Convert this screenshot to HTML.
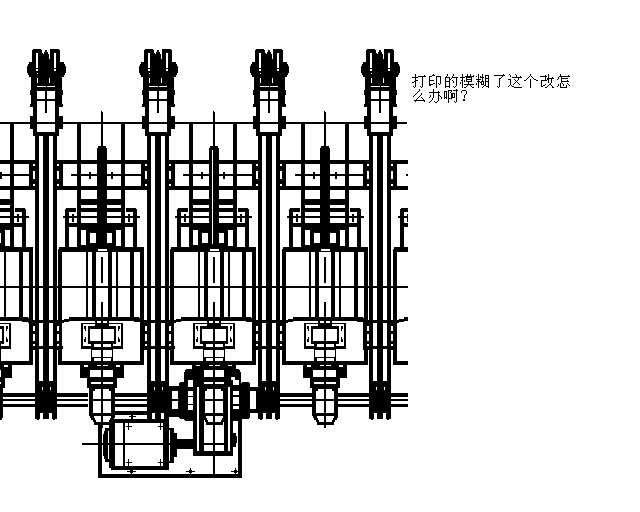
<!DOCTYPE html>
<html><head><meta charset="utf-8"><style>
html,body{margin:0;padding:0;background:#fff;width:640px;height:512px;overflow:hidden}
svg{display:block}
</style></head><body>
<svg width="640" height="512" viewBox="0 0 640 512" shape-rendering="crispEdges">
<defs><clipPath id="c"><rect x="0" y="0" width="408" height="512"/></clipPath></defs>
<g clip-path="url(#c)">
<rect x="0" y="122" width="407" height="2"/>
<g transform="translate(-335,0)"><rect x="280" y="393" width="32" height="4"/><rect x="280" y="399" width="32" height="2"/><rect x="280" y="404" width="32" height="3"/></g><g transform="translate(-224,0)"><rect x="280" y="393" width="32" height="4"/><rect x="280" y="399" width="32" height="2"/><rect x="280" y="404" width="32" height="3"/></g><g transform="translate(0,0)"><rect x="280" y="393" width="32" height="4"/><rect x="280" y="399" width="32" height="2"/><rect x="280" y="404" width="32" height="3"/></g><g transform="translate(111,0)"><rect x="280" y="393" width="32" height="4"/><rect x="280" y="399" width="32" height="2"/><rect x="280" y="404" width="32" height="3"/></g><g transform="translate(-335,0)"><rect x="338" y="393" width="33" height="4"/><rect x="338" y="399" width="33" height="2"/><rect x="338" y="404" width="33" height="3"/></g><g transform="translate(-224,0)"><rect x="338" y="393" width="33" height="4"/><rect x="338" y="399" width="33" height="2"/><rect x="338" y="404" width="33" height="3"/></g><g transform="translate(0,0)"><rect x="338" y="393" width="33" height="4"/><rect x="338" y="399" width="33" height="2"/><rect x="338" y="404" width="33" height="3"/></g><g transform="translate(111,0)"><rect x="338" y="393" width="33" height="4"/><rect x="338" y="399" width="33" height="2"/><rect x="338" y="404" width="33" height="3"/></g><g transform="translate(-335,0)"><rect x="237" y="160" width="16" height="4"/><rect x="237" y="186" width="16" height="4"/><rect x="286" y="160" width="15" height="4"/><rect x="286" y="186" width="15" height="4"/><rect x="305" y="160" width="40" height="4"/><rect x="305" y="186" width="40" height="4"/><rect x="237" y="174" width="15" height="2"/><rect x="295" y="174" width="70" height="2"/><rect x="313" y="172" width="2" height="7"/><rect x="335" y="172" width="2" height="7"/><rect x="301" y="124" width="4" height="124"/><rect x="345" y="124" width="4" height="124"/><rect x="305" y="199" width="40" height="6"/><rect x="305" y="208" width="40" height="4"/><rect x="287" y="216" width="77" height="2"/><rect x="305" y="223" width="40" height="7"/><rect x="290" y="208" width="10" height="4"/><rect x="289" y="209" width="4" height="39"/><rect x="293" y="223" width="8" height="4"/><rect x="296" y="214" width="2" height="8"/><rect x="350" y="208" width="10" height="4"/><rect x="357" y="209" width="4" height="39"/><rect x="349" y="223" width="8" height="4"/><rect x="352" y="214" width="2" height="8"/><rect x="305" y="223" width="40" height="25"/><rect x="305" y="230" width="5" height="15" fill="#fff"/><rect x="306" y="230" width="1" height="2" fill="#fff"/><rect x="314" y="233" width="6" height="10" fill="#fff"/><rect x="330" y="233" width="6" height="10" fill="#fff"/><rect x="340" y="230" width="5" height="16" fill="#fff"/><rect x="283" y="247" width="85" height="5"/><rect x="282" y="249" width="4" height="116"/><rect x="364" y="249" width="4" height="116"/><rect x="282" y="361" width="86" height="4"/><rect x="354" y="248" width="4" height="70"/><rect x="240" y="286" width="128" height="2"/><rect x="293" y="317" width="70" height="4"/><rect x="288" y="319" width="5" height="3"/><rect x="252" y="320" width="36" height="3"/><rect x="246" y="319" width="6" height="3"/><rect x="363" y="318" width="2" height="3"/></g><g transform="translate(-224,0)"><rect x="237" y="160" width="16" height="4"/><rect x="237" y="186" width="16" height="4"/><rect x="286" y="160" width="15" height="4"/><rect x="286" y="186" width="15" height="4"/><rect x="305" y="160" width="40" height="4"/><rect x="305" y="186" width="40" height="4"/><rect x="237" y="174" width="15" height="2"/><rect x="295" y="174" width="70" height="2"/><rect x="313" y="172" width="2" height="7"/><rect x="335" y="172" width="2" height="7"/><rect x="301" y="124" width="4" height="124"/><rect x="345" y="124" width="4" height="124"/><rect x="305" y="199" width="40" height="6"/><rect x="305" y="208" width="40" height="4"/><rect x="287" y="216" width="77" height="2"/><rect x="305" y="223" width="40" height="7"/><rect x="290" y="208" width="10" height="4"/><rect x="289" y="209" width="4" height="39"/><rect x="293" y="223" width="8" height="4"/><rect x="296" y="214" width="2" height="8"/><rect x="350" y="208" width="10" height="4"/><rect x="357" y="209" width="4" height="39"/><rect x="349" y="223" width="8" height="4"/><rect x="352" y="214" width="2" height="8"/><rect x="305" y="223" width="40" height="25"/><rect x="305" y="230" width="5" height="15" fill="#fff"/><rect x="306" y="230" width="1" height="2" fill="#fff"/><rect x="314" y="233" width="6" height="10" fill="#fff"/><rect x="330" y="233" width="6" height="10" fill="#fff"/><rect x="340" y="230" width="5" height="16" fill="#fff"/><rect x="283" y="247" width="85" height="5"/><rect x="282" y="249" width="4" height="116"/><rect x="364" y="249" width="4" height="116"/><rect x="282" y="361" width="86" height="4"/><rect x="354" y="248" width="4" height="70"/><rect x="240" y="286" width="128" height="2"/><rect x="293" y="317" width="70" height="4"/><rect x="288" y="319" width="5" height="3"/><rect x="252" y="320" width="36" height="3"/><rect x="246" y="319" width="6" height="3"/><rect x="363" y="318" width="2" height="3"/></g><g transform="translate(-112,0)"><rect x="237" y="160" width="16" height="4"/><rect x="237" y="186" width="16" height="4"/><rect x="286" y="160" width="15" height="4"/><rect x="286" y="186" width="15" height="4"/><rect x="305" y="160" width="40" height="4"/><rect x="305" y="186" width="40" height="4"/><rect x="237" y="174" width="15" height="2"/><rect x="295" y="174" width="70" height="2"/><rect x="313" y="172" width="2" height="7"/><rect x="335" y="172" width="2" height="7"/><rect x="301" y="124" width="4" height="124"/><rect x="345" y="124" width="4" height="124"/><rect x="305" y="199" width="40" height="6"/><rect x="305" y="208" width="40" height="4"/><rect x="287" y="216" width="77" height="2"/><rect x="305" y="223" width="40" height="7"/><rect x="290" y="208" width="10" height="4"/><rect x="289" y="209" width="4" height="39"/><rect x="293" y="223" width="8" height="4"/><rect x="296" y="214" width="2" height="8"/><rect x="350" y="208" width="10" height="4"/><rect x="357" y="209" width="4" height="39"/><rect x="349" y="223" width="8" height="4"/><rect x="352" y="214" width="2" height="8"/><rect x="305" y="223" width="40" height="25"/><rect x="305" y="230" width="5" height="15" fill="#fff"/><rect x="306" y="230" width="1" height="2" fill="#fff"/><rect x="314" y="233" width="6" height="10" fill="#fff"/><rect x="330" y="233" width="6" height="10" fill="#fff"/><rect x="340" y="230" width="5" height="16" fill="#fff"/><rect x="283" y="247" width="85" height="5"/><rect x="282" y="249" width="4" height="116"/><rect x="364" y="249" width="4" height="116"/><rect x="282" y="361" width="86" height="4"/><rect x="354" y="248" width="4" height="70"/><rect x="240" y="286" width="128" height="2"/><rect x="293" y="317" width="70" height="4"/><rect x="288" y="319" width="5" height="3"/><rect x="252" y="320" width="36" height="3"/><rect x="246" y="319" width="6" height="3"/><rect x="363" y="318" width="2" height="3"/></g><g transform="translate(0,0)"><rect x="237" y="160" width="16" height="4"/><rect x="237" y="186" width="16" height="4"/><rect x="286" y="160" width="15" height="4"/><rect x="286" y="186" width="15" height="4"/><rect x="305" y="160" width="40" height="4"/><rect x="305" y="186" width="40" height="4"/><rect x="237" y="174" width="15" height="2"/><rect x="295" y="174" width="70" height="2"/><rect x="313" y="172" width="2" height="7"/><rect x="335" y="172" width="2" height="7"/><rect x="301" y="124" width="4" height="124"/><rect x="345" y="124" width="4" height="124"/><rect x="305" y="199" width="40" height="6"/><rect x="305" y="208" width="40" height="4"/><rect x="287" y="216" width="77" height="2"/><rect x="305" y="223" width="40" height="7"/><rect x="290" y="208" width="10" height="4"/><rect x="289" y="209" width="4" height="39"/><rect x="293" y="223" width="8" height="4"/><rect x="296" y="214" width="2" height="8"/><rect x="350" y="208" width="10" height="4"/><rect x="357" y="209" width="4" height="39"/><rect x="349" y="223" width="8" height="4"/><rect x="352" y="214" width="2" height="8"/><rect x="305" y="223" width="40" height="25"/><rect x="305" y="230" width="5" height="15" fill="#fff"/><rect x="306" y="230" width="1" height="2" fill="#fff"/><rect x="314" y="233" width="6" height="10" fill="#fff"/><rect x="330" y="233" width="6" height="10" fill="#fff"/><rect x="340" y="230" width="5" height="16" fill="#fff"/><rect x="283" y="247" width="85" height="5"/><rect x="282" y="249" width="4" height="116"/><rect x="364" y="249" width="4" height="116"/><rect x="282" y="361" width="86" height="4"/><rect x="354" y="248" width="4" height="70"/><rect x="240" y="286" width="128" height="2"/><rect x="293" y="317" width="70" height="4"/><rect x="288" y="319" width="5" height="3"/><rect x="252" y="320" width="36" height="3"/><rect x="246" y="319" width="6" height="3"/><rect x="363" y="318" width="2" height="3"/></g><g transform="translate(111,0)"><rect x="237" y="160" width="16" height="4"/><rect x="237" y="186" width="16" height="4"/><rect x="286" y="160" width="15" height="4"/><rect x="286" y="186" width="15" height="4"/><rect x="305" y="160" width="40" height="4"/><rect x="305" y="186" width="40" height="4"/><rect x="237" y="174" width="15" height="2"/><rect x="295" y="174" width="70" height="2"/><rect x="313" y="172" width="2" height="7"/><rect x="335" y="172" width="2" height="7"/><rect x="301" y="124" width="4" height="124"/><rect x="345" y="124" width="4" height="124"/><rect x="305" y="199" width="40" height="6"/><rect x="305" y="208" width="40" height="4"/><rect x="287" y="216" width="77" height="2"/><rect x="305" y="223" width="40" height="7"/><rect x="290" y="208" width="10" height="4"/><rect x="289" y="209" width="4" height="39"/><rect x="293" y="223" width="8" height="4"/><rect x="296" y="214" width="2" height="8"/><rect x="350" y="208" width="10" height="4"/><rect x="357" y="209" width="4" height="39"/><rect x="349" y="223" width="8" height="4"/><rect x="352" y="214" width="2" height="8"/><rect x="305" y="223" width="40" height="25"/><rect x="305" y="230" width="5" height="15" fill="#fff"/><rect x="306" y="230" width="1" height="2" fill="#fff"/><rect x="314" y="233" width="6" height="10" fill="#fff"/><rect x="330" y="233" width="6" height="10" fill="#fff"/><rect x="340" y="230" width="5" height="16" fill="#fff"/><rect x="283" y="247" width="85" height="5"/><rect x="282" y="249" width="4" height="116"/><rect x="364" y="249" width="4" height="116"/><rect x="282" y="361" width="86" height="4"/><rect x="354" y="248" width="4" height="70"/><rect x="240" y="286" width="128" height="2"/><rect x="293" y="317" width="70" height="4"/><rect x="288" y="319" width="5" height="3"/><rect x="252" y="320" width="36" height="3"/><rect x="246" y="319" width="6" height="3"/><rect x="363" y="318" width="2" height="3"/></g><g transform="translate(-335,0)"><rect x="324" y="111" width="1" height="36"/><rect x="325" y="112" width="1" height="35"/><rect x="321" y="146" width="8" height="2"/><rect x="320" y="148" width="10" height="99"/><rect x="321" y="249" width="9" height="2" fill="#fff"/><rect x="309" y="252" width="2" height="66"/><rect x="315" y="252" width="4" height="66"/><rect x="331" y="252" width="4" height="66"/><rect x="339" y="252" width="2" height="66"/><rect x="324" y="257" width="2" height="26"/><rect x="318" y="320" width="14" height="9"/><rect x="320" y="321" width="4" height="4" fill="#fff"/><rect x="326" y="321" width="4" height="4" fill="#fff"/><rect x="304" y="323" width="42" height="26"/><rect x="306" y="324" width="5" height="19" fill="#fff"/><rect x="339" y="324" width="5" height="19" fill="#fff"/><rect x="309" y="324" width="9" height="2" fill="#fff"/><rect x="332" y="324" width="9" height="2" fill="#fff"/><rect x="306" y="343" width="5" height="3" fill="#fff"/><rect x="339" y="343" width="5" height="3" fill="#fff"/><rect x="311" y="344" width="6" height="2" fill="#fff"/><rect x="334" y="344" width="5" height="2" fill="#fff"/><rect x="307" y="326" width="2" height="3"/><rect x="308" y="329" width="1" height="2"/><rect x="341" y="326" width="2" height="3"/><rect x="341" y="329" width="1" height="2"/><rect x="307" y="339" width="2" height="3"/><rect x="308" y="337" width="1" height="2"/><rect x="341" y="339" width="2" height="3"/><rect x="341" y="337" width="1" height="2"/><rect x="311" y="327" width="28" height="16"/><rect x="313" y="329" width="11" height="12" fill="#fff"/><rect x="326" y="329" width="11" height="12" fill="#fff"/><rect x="324" y="302" width="2" height="61"/><rect x="314" y="342" width="22" height="20"/><rect x="317" y="344" width="7" height="3" fill="#fff"/><rect x="326" y="344" width="8" height="3" fill="#fff"/><rect x="315" y="350" width="9" height="7" fill="#fff"/><rect x="326" y="350" width="9" height="7" fill="#fff"/><rect x="317" y="358" width="7" height="3" fill="#fff"/><rect x="326" y="358" width="8" height="3" fill="#fff"/><rect x="303" y="365" width="44" height="13"/><rect x="313" y="370" width="11" height="7" fill="#fff"/><rect x="326" y="370" width="10" height="7" fill="#fff"/><rect x="307" y="365" width="4" height="2" fill="#fff"/><rect x="339" y="365" width="4" height="2" fill="#fff"/><rect x="320" y="365" width="4" height="1" fill="#fff"/><rect x="326" y="365" width="5" height="1" fill="#fff"/><rect x="310" y="378" width="30" height="10"/><rect x="314" y="382" width="10" height="2" fill="#fff"/><rect x="326" y="382" width="10" height="2" fill="#fff"/><rect x="312" y="388" width="26" height="28"/><rect x="316" y="389" width="8" height="24" fill="#fff"/><rect x="326" y="389" width="8" height="24" fill="#fff"/><rect x="316" y="399" width="18" height="2"/><rect x="316" y="389" width="2" height="2"/><rect x="332" y="389" width="2" height="2"/><rect x="313" y="416" width="4" height="2"/><rect x="314" y="418" width="4" height="2"/><rect x="316" y="420" width="3" height="2"/><rect x="334" y="416" width="4" height="2"/><rect x="333" y="418" width="4" height="2"/><rect x="332" y="420" width="3" height="2"/><rect x="317" y="422" width="17" height="3"/><rect x="324" y="365" width="2" height="63"/></g><g transform="translate(-223,0)"><rect x="324" y="111" width="1" height="36"/><rect x="325" y="112" width="1" height="35"/><rect x="321" y="146" width="8" height="2"/><rect x="320" y="148" width="10" height="99"/><rect x="321" y="249" width="9" height="2" fill="#fff"/><rect x="309" y="252" width="2" height="66"/><rect x="315" y="252" width="4" height="66"/><rect x="331" y="252" width="4" height="66"/><rect x="339" y="252" width="2" height="66"/><rect x="324" y="257" width="2" height="26"/><rect x="318" y="320" width="14" height="9"/><rect x="320" y="321" width="4" height="4" fill="#fff"/><rect x="326" y="321" width="4" height="4" fill="#fff"/><rect x="304" y="323" width="42" height="26"/><rect x="306" y="324" width="5" height="19" fill="#fff"/><rect x="339" y="324" width="5" height="19" fill="#fff"/><rect x="309" y="324" width="9" height="2" fill="#fff"/><rect x="332" y="324" width="9" height="2" fill="#fff"/><rect x="306" y="343" width="5" height="3" fill="#fff"/><rect x="339" y="343" width="5" height="3" fill="#fff"/><rect x="311" y="344" width="6" height="2" fill="#fff"/><rect x="334" y="344" width="5" height="2" fill="#fff"/><rect x="307" y="326" width="2" height="3"/><rect x="308" y="329" width="1" height="2"/><rect x="341" y="326" width="2" height="3"/><rect x="341" y="329" width="1" height="2"/><rect x="307" y="339" width="2" height="3"/><rect x="308" y="337" width="1" height="2"/><rect x="341" y="339" width="2" height="3"/><rect x="341" y="337" width="1" height="2"/><rect x="311" y="327" width="28" height="16"/><rect x="313" y="329" width="11" height="12" fill="#fff"/><rect x="326" y="329" width="11" height="12" fill="#fff"/><rect x="324" y="302" width="2" height="61"/><rect x="314" y="342" width="22" height="20"/><rect x="317" y="344" width="7" height="3" fill="#fff"/><rect x="326" y="344" width="8" height="3" fill="#fff"/><rect x="315" y="350" width="9" height="7" fill="#fff"/><rect x="326" y="350" width="9" height="7" fill="#fff"/><rect x="317" y="358" width="7" height="3" fill="#fff"/><rect x="326" y="358" width="8" height="3" fill="#fff"/><rect x="303" y="365" width="44" height="13"/><rect x="313" y="370" width="11" height="7" fill="#fff"/><rect x="326" y="370" width="10" height="7" fill="#fff"/><rect x="307" y="365" width="4" height="2" fill="#fff"/><rect x="339" y="365" width="4" height="2" fill="#fff"/><rect x="320" y="365" width="4" height="1" fill="#fff"/><rect x="326" y="365" width="5" height="1" fill="#fff"/><rect x="310" y="378" width="30" height="10"/><rect x="314" y="382" width="10" height="2" fill="#fff"/><rect x="326" y="382" width="10" height="2" fill="#fff"/><rect x="312" y="388" width="26" height="28"/><rect x="316" y="389" width="8" height="24" fill="#fff"/><rect x="326" y="389" width="8" height="24" fill="#fff"/><rect x="316" y="399" width="18" height="2"/><rect x="316" y="389" width="2" height="2"/><rect x="332" y="389" width="2" height="2"/><rect x="313" y="416" width="4" height="2"/><rect x="314" y="418" width="4" height="2"/><rect x="316" y="420" width="3" height="2"/><rect x="334" y="416" width="4" height="2"/><rect x="333" y="418" width="4" height="2"/><rect x="332" y="420" width="3" height="2"/><rect x="317" y="422" width="17" height="3"/><rect x="324" y="365" width="2" height="63"/></g><g transform="translate(-111,0)"><rect x="324" y="111" width="1" height="36"/><rect x="325" y="112" width="1" height="35"/><rect x="321" y="146" width="8" height="2"/><rect x="320" y="148" width="10" height="99"/><rect x="321" y="249" width="9" height="2" fill="#fff"/><rect x="309" y="252" width="2" height="66"/><rect x="315" y="252" width="4" height="66"/><rect x="331" y="252" width="4" height="66"/><rect x="339" y="252" width="2" height="66"/><rect x="324" y="257" width="2" height="26"/><rect x="318" y="320" width="14" height="9"/><rect x="320" y="321" width="4" height="4" fill="#fff"/><rect x="326" y="321" width="4" height="4" fill="#fff"/><rect x="304" y="323" width="42" height="26"/><rect x="306" y="324" width="5" height="19" fill="#fff"/><rect x="339" y="324" width="5" height="19" fill="#fff"/><rect x="309" y="324" width="9" height="2" fill="#fff"/><rect x="332" y="324" width="9" height="2" fill="#fff"/><rect x="306" y="343" width="5" height="3" fill="#fff"/><rect x="339" y="343" width="5" height="3" fill="#fff"/><rect x="311" y="344" width="6" height="2" fill="#fff"/><rect x="334" y="344" width="5" height="2" fill="#fff"/><rect x="307" y="326" width="2" height="3"/><rect x="308" y="329" width="1" height="2"/><rect x="341" y="326" width="2" height="3"/><rect x="341" y="329" width="1" height="2"/><rect x="307" y="339" width="2" height="3"/><rect x="308" y="337" width="1" height="2"/><rect x="341" y="339" width="2" height="3"/><rect x="341" y="337" width="1" height="2"/><rect x="311" y="327" width="28" height="16"/><rect x="313" y="329" width="11" height="12" fill="#fff"/><rect x="326" y="329" width="11" height="12" fill="#fff"/><rect x="324" y="302" width="2" height="61"/><rect x="314" y="342" width="22" height="20"/><rect x="317" y="344" width="7" height="3" fill="#fff"/><rect x="326" y="344" width="8" height="3" fill="#fff"/><rect x="315" y="350" width="9" height="7" fill="#fff"/><rect x="326" y="350" width="9" height="7" fill="#fff"/><rect x="317" y="358" width="7" height="3" fill="#fff"/><rect x="326" y="358" width="8" height="3" fill="#fff"/><rect x="303" y="365" width="44" height="13"/><rect x="313" y="370" width="11" height="7" fill="#fff"/><rect x="326" y="370" width="10" height="7" fill="#fff"/><rect x="307" y="365" width="4" height="2" fill="#fff"/><rect x="339" y="365" width="4" height="2" fill="#fff"/><rect x="320" y="365" width="4" height="1" fill="#fff"/><rect x="326" y="365" width="5" height="1" fill="#fff"/><rect x="310" y="378" width="30" height="10"/><rect x="314" y="382" width="10" height="2" fill="#fff"/><rect x="326" y="382" width="10" height="2" fill="#fff"/><rect x="312" y="388" width="26" height="28"/><rect x="316" y="389" width="8" height="24" fill="#fff"/><rect x="326" y="389" width="8" height="24" fill="#fff"/><rect x="316" y="399" width="18" height="2"/><rect x="316" y="389" width="2" height="2"/><rect x="332" y="389" width="2" height="2"/><rect x="313" y="416" width="4" height="2"/><rect x="314" y="418" width="4" height="2"/><rect x="316" y="420" width="3" height="2"/><rect x="334" y="416" width="4" height="2"/><rect x="333" y="418" width="4" height="2"/><rect x="332" y="420" width="3" height="2"/><rect x="317" y="422" width="17" height="3"/><rect x="324" y="365" width="2" height="63"/></g><g transform="translate(0,0)"><rect x="324" y="111" width="1" height="36"/><rect x="325" y="112" width="1" height="35"/><rect x="321" y="146" width="8" height="2"/><rect x="320" y="148" width="10" height="99"/><rect x="321" y="249" width="9" height="2" fill="#fff"/><rect x="309" y="252" width="2" height="66"/><rect x="315" y="252" width="4" height="66"/><rect x="331" y="252" width="4" height="66"/><rect x="339" y="252" width="2" height="66"/><rect x="324" y="257" width="2" height="26"/><rect x="318" y="320" width="14" height="9"/><rect x="320" y="321" width="4" height="4" fill="#fff"/><rect x="326" y="321" width="4" height="4" fill="#fff"/><rect x="304" y="323" width="42" height="26"/><rect x="306" y="324" width="5" height="19" fill="#fff"/><rect x="339" y="324" width="5" height="19" fill="#fff"/><rect x="309" y="324" width="9" height="2" fill="#fff"/><rect x="332" y="324" width="9" height="2" fill="#fff"/><rect x="306" y="343" width="5" height="3" fill="#fff"/><rect x="339" y="343" width="5" height="3" fill="#fff"/><rect x="311" y="344" width="6" height="2" fill="#fff"/><rect x="334" y="344" width="5" height="2" fill="#fff"/><rect x="307" y="326" width="2" height="3"/><rect x="308" y="329" width="1" height="2"/><rect x="341" y="326" width="2" height="3"/><rect x="341" y="329" width="1" height="2"/><rect x="307" y="339" width="2" height="3"/><rect x="308" y="337" width="1" height="2"/><rect x="341" y="339" width="2" height="3"/><rect x="341" y="337" width="1" height="2"/><rect x="311" y="327" width="28" height="16"/><rect x="313" y="329" width="11" height="12" fill="#fff"/><rect x="326" y="329" width="11" height="12" fill="#fff"/><rect x="324" y="302" width="2" height="61"/><rect x="314" y="342" width="22" height="20"/><rect x="317" y="344" width="7" height="3" fill="#fff"/><rect x="326" y="344" width="8" height="3" fill="#fff"/><rect x="315" y="350" width="9" height="7" fill="#fff"/><rect x="326" y="350" width="9" height="7" fill="#fff"/><rect x="317" y="358" width="7" height="3" fill="#fff"/><rect x="326" y="358" width="8" height="3" fill="#fff"/><rect x="303" y="365" width="44" height="13"/><rect x="313" y="370" width="11" height="7" fill="#fff"/><rect x="326" y="370" width="10" height="7" fill="#fff"/><rect x="307" y="365" width="4" height="2" fill="#fff"/><rect x="339" y="365" width="4" height="2" fill="#fff"/><rect x="320" y="365" width="4" height="1" fill="#fff"/><rect x="326" y="365" width="5" height="1" fill="#fff"/><rect x="310" y="378" width="30" height="10"/><rect x="314" y="382" width="10" height="2" fill="#fff"/><rect x="326" y="382" width="10" height="2" fill="#fff"/><rect x="312" y="388" width="26" height="28"/><rect x="316" y="389" width="8" height="24" fill="#fff"/><rect x="326" y="389" width="8" height="24" fill="#fff"/><rect x="316" y="399" width="18" height="2"/><rect x="316" y="389" width="2" height="2"/><rect x="332" y="389" width="2" height="2"/><rect x="313" y="416" width="4" height="2"/><rect x="314" y="418" width="4" height="2"/><rect x="316" y="420" width="3" height="2"/><rect x="334" y="416" width="4" height="2"/><rect x="333" y="418" width="4" height="2"/><rect x="332" y="420" width="3" height="2"/><rect x="317" y="422" width="17" height="3"/><rect x="324" y="365" width="2" height="63"/></g><g transform="translate(111,0)"><rect x="324" y="111" width="1" height="36"/><rect x="325" y="112" width="1" height="35"/><rect x="321" y="146" width="8" height="2"/><rect x="320" y="148" width="10" height="99"/><rect x="321" y="249" width="9" height="2" fill="#fff"/><rect x="309" y="252" width="2" height="66"/><rect x="315" y="252" width="4" height="66"/><rect x="331" y="252" width="4" height="66"/><rect x="339" y="252" width="2" height="66"/><rect x="324" y="257" width="2" height="26"/><rect x="318" y="320" width="14" height="9"/><rect x="320" y="321" width="4" height="4" fill="#fff"/><rect x="326" y="321" width="4" height="4" fill="#fff"/><rect x="304" y="323" width="42" height="26"/><rect x="306" y="324" width="5" height="19" fill="#fff"/><rect x="339" y="324" width="5" height="19" fill="#fff"/><rect x="309" y="324" width="9" height="2" fill="#fff"/><rect x="332" y="324" width="9" height="2" fill="#fff"/><rect x="306" y="343" width="5" height="3" fill="#fff"/><rect x="339" y="343" width="5" height="3" fill="#fff"/><rect x="311" y="344" width="6" height="2" fill="#fff"/><rect x="334" y="344" width="5" height="2" fill="#fff"/><rect x="307" y="326" width="2" height="3"/><rect x="308" y="329" width="1" height="2"/><rect x="341" y="326" width="2" height="3"/><rect x="341" y="329" width="1" height="2"/><rect x="307" y="339" width="2" height="3"/><rect x="308" y="337" width="1" height="2"/><rect x="341" y="339" width="2" height="3"/><rect x="341" y="337" width="1" height="2"/><rect x="311" y="327" width="28" height="16"/><rect x="313" y="329" width="11" height="12" fill="#fff"/><rect x="326" y="329" width="11" height="12" fill="#fff"/><rect x="324" y="302" width="2" height="61"/><rect x="314" y="342" width="22" height="20"/><rect x="317" y="344" width="7" height="3" fill="#fff"/><rect x="326" y="344" width="8" height="3" fill="#fff"/><rect x="315" y="350" width="9" height="7" fill="#fff"/><rect x="326" y="350" width="9" height="7" fill="#fff"/><rect x="317" y="358" width="7" height="3" fill="#fff"/><rect x="326" y="358" width="8" height="3" fill="#fff"/><rect x="303" y="365" width="44" height="13"/><rect x="313" y="370" width="11" height="7" fill="#fff"/><rect x="326" y="370" width="10" height="7" fill="#fff"/><rect x="307" y="365" width="4" height="2" fill="#fff"/><rect x="339" y="365" width="4" height="2" fill="#fff"/><rect x="320" y="365" width="4" height="1" fill="#fff"/><rect x="326" y="365" width="5" height="1" fill="#fff"/><rect x="310" y="378" width="30" height="10"/><rect x="314" y="382" width="10" height="2" fill="#fff"/><rect x="326" y="382" width="10" height="2" fill="#fff"/><rect x="312" y="388" width="26" height="28"/><rect x="316" y="389" width="8" height="24" fill="#fff"/><rect x="326" y="389" width="8" height="24" fill="#fff"/><rect x="316" y="399" width="18" height="2"/><rect x="316" y="389" width="2" height="2"/><rect x="332" y="389" width="2" height="2"/><rect x="313" y="416" width="4" height="2"/><rect x="314" y="418" width="4" height="2"/><rect x="316" y="420" width="3" height="2"/><rect x="334" y="416" width="4" height="2"/><rect x="333" y="418" width="4" height="2"/><rect x="332" y="420" width="3" height="2"/><rect x="317" y="422" width="17" height="3"/><rect x="324" y="365" width="2" height="63"/></g><g transform="translate(-334,0)"><rect x="256" y="49" width="8" height="13"/><rect x="255" y="50" width="1" height="12"/><rect x="264" y="50" width="1" height="12"/><rect x="265" y="53" width="1" height="9"/><rect x="273" y="49" width="9" height="13"/><rect x="282" y="50" width="1" height="12"/><rect x="265" y="56" width="7" height="6"/><rect x="266" y="54" width="6" height="2"/><rect x="267" y="52" width="4" height="2"/><rect x="268" y="50" width="2" height="2"/><rect x="272" y="59" width="1" height="3"/><rect x="252" y="62" width="35" height="15"/><rect x="251" y="64" width="37" height="11"/><rect x="250" y="66" width="39" height="7"/><rect x="254" y="77" width="31" height="30"/><rect x="253" y="90" width="33" height="5"/><rect x="253" y="104" width="33" height="3"/><rect x="256" y="107" width="26" height="29"/><rect x="253" y="116" width="33" height="13"/><rect x="259" y="53" width="2" height="15" fill="#fff"/><rect x="277" y="53" width="2" height="15" fill="#fff"/><rect x="259" y="69" width="2" height="2" fill="#fff"/><rect x="277" y="69" width="2" height="2" fill="#fff"/><rect x="260" y="73" width="1" height="1" fill="#fff"/><rect x="260" y="86" width="9" height="1" fill="#fff"/><rect x="270" y="86" width="8" height="1" fill="#fff"/><rect x="260" y="78" width="1" height="5" fill="#fff"/><rect x="272" y="78" width="1" height="5" fill="#fff"/><rect x="260" y="91" width="18" height="31" fill="#fff"/><rect x="268" y="91" width="2" height="22"/><rect x="260" y="99" width="18" height="2"/><rect x="256" y="122" width="26" height="2"/><rect x="260" y="124" width="18" height="8" fill="#fff"/><rect x="258" y="136" width="4" height="245"/><rect x="266" y="136" width="6" height="245"/><rect x="276" y="136" width="4" height="245"/><rect x="252" y="160" width="6" height="30"/><rect x="256" y="164" width="2" height="2" fill="#fff"/><rect x="256" y="171" width="2" height="8" fill="#fff"/><rect x="256" y="184" width="2" height="2" fill="#fff"/><rect x="280" y="160" width="6" height="30"/><rect x="280" y="164" width="2" height="2" fill="#fff"/><rect x="280" y="171" width="2" height="8" fill="#fff"/><rect x="280" y="184" width="2" height="2" fill="#fff"/><rect x="256" y="160" width="2" height="4"/><rect x="256" y="186" width="2" height="4"/><rect x="280" y="160" width="2" height="4"/><rect x="280" y="186" width="2" height="4"/><rect x="252" y="322" width="6" height="28"/><rect x="256" y="326" width="2" height="5" fill="#fff"/><rect x="256" y="334" width="2" height="7" fill="#fff"/><rect x="256" y="344" width="2" height="2" fill="#fff"/><rect x="280" y="322" width="2" height="28"/><rect x="280" y="326" width="2" height="5" fill="#fff"/><rect x="280" y="334" width="2" height="7" fill="#fff"/><rect x="280" y="344" width="2" height="2" fill="#fff"/><rect x="252" y="346" width="34" height="3"/><rect x="258" y="381" width="22" height="38"/><rect x="263" y="413" width="3" height="6" fill="#fff"/><rect x="272" y="413" width="3" height="6" fill="#fff"/><rect x="265" y="387" width="1" height="3" fill="#fff"/><rect x="273" y="387" width="1" height="3" fill="#fff"/><rect x="260" y="419" width="2" height="1"/><rect x="276" y="419" width="2" height="1"/></g><g transform="translate(-223,0)"><rect x="256" y="49" width="8" height="13"/><rect x="255" y="50" width="1" height="12"/><rect x="264" y="50" width="1" height="12"/><rect x="265" y="53" width="1" height="9"/><rect x="273" y="49" width="9" height="13"/><rect x="282" y="50" width="1" height="12"/><rect x="265" y="56" width="7" height="6"/><rect x="266" y="54" width="6" height="2"/><rect x="267" y="52" width="4" height="2"/><rect x="268" y="50" width="2" height="2"/><rect x="272" y="59" width="1" height="3"/><rect x="252" y="62" width="35" height="15"/><rect x="251" y="64" width="37" height="11"/><rect x="250" y="66" width="39" height="7"/><rect x="254" y="77" width="31" height="30"/><rect x="253" y="90" width="33" height="5"/><rect x="253" y="104" width="33" height="3"/><rect x="256" y="107" width="26" height="29"/><rect x="253" y="116" width="33" height="13"/><rect x="259" y="53" width="2" height="15" fill="#fff"/><rect x="277" y="53" width="2" height="15" fill="#fff"/><rect x="259" y="69" width="2" height="2" fill="#fff"/><rect x="277" y="69" width="2" height="2" fill="#fff"/><rect x="260" y="73" width="1" height="1" fill="#fff"/><rect x="260" y="86" width="9" height="1" fill="#fff"/><rect x="270" y="86" width="8" height="1" fill="#fff"/><rect x="260" y="78" width="1" height="5" fill="#fff"/><rect x="272" y="78" width="1" height="5" fill="#fff"/><rect x="260" y="91" width="18" height="31" fill="#fff"/><rect x="268" y="91" width="2" height="22"/><rect x="260" y="99" width="18" height="2"/><rect x="256" y="122" width="26" height="2"/><rect x="260" y="124" width="18" height="8" fill="#fff"/><rect x="258" y="136" width="4" height="245"/><rect x="266" y="136" width="6" height="245"/><rect x="276" y="136" width="4" height="245"/><rect x="252" y="160" width="6" height="30"/><rect x="256" y="164" width="2" height="2" fill="#fff"/><rect x="256" y="171" width="2" height="8" fill="#fff"/><rect x="256" y="184" width="2" height="2" fill="#fff"/><rect x="280" y="160" width="6" height="30"/><rect x="280" y="164" width="2" height="2" fill="#fff"/><rect x="280" y="171" width="2" height="8" fill="#fff"/><rect x="280" y="184" width="2" height="2" fill="#fff"/><rect x="256" y="160" width="2" height="4"/><rect x="256" y="186" width="2" height="4"/><rect x="280" y="160" width="2" height="4"/><rect x="280" y="186" width="2" height="4"/><rect x="252" y="322" width="6" height="28"/><rect x="256" y="326" width="2" height="5" fill="#fff"/><rect x="256" y="334" width="2" height="7" fill="#fff"/><rect x="256" y="344" width="2" height="2" fill="#fff"/><rect x="280" y="322" width="2" height="28"/><rect x="280" y="326" width="2" height="5" fill="#fff"/><rect x="280" y="334" width="2" height="7" fill="#fff"/><rect x="280" y="344" width="2" height="2" fill="#fff"/><rect x="252" y="346" width="34" height="3"/><rect x="258" y="381" width="22" height="38"/><rect x="263" y="413" width="3" height="6" fill="#fff"/><rect x="272" y="413" width="3" height="6" fill="#fff"/><rect x="265" y="387" width="1" height="3" fill="#fff"/><rect x="273" y="387" width="1" height="3" fill="#fff"/><rect x="260" y="419" width="2" height="1"/><rect x="276" y="419" width="2" height="1"/></g><g transform="translate(-111,0)"><rect x="256" y="49" width="8" height="13"/><rect x="255" y="50" width="1" height="12"/><rect x="264" y="50" width="1" height="12"/><rect x="265" y="53" width="1" height="9"/><rect x="273" y="49" width="9" height="13"/><rect x="282" y="50" width="1" height="12"/><rect x="265" y="56" width="7" height="6"/><rect x="266" y="54" width="6" height="2"/><rect x="267" y="52" width="4" height="2"/><rect x="268" y="50" width="2" height="2"/><rect x="272" y="59" width="1" height="3"/><rect x="252" y="62" width="35" height="15"/><rect x="251" y="64" width="37" height="11"/><rect x="250" y="66" width="39" height="7"/><rect x="254" y="77" width="31" height="30"/><rect x="253" y="90" width="33" height="5"/><rect x="253" y="104" width="33" height="3"/><rect x="256" y="107" width="26" height="29"/><rect x="253" y="116" width="33" height="13"/><rect x="259" y="53" width="2" height="15" fill="#fff"/><rect x="277" y="53" width="2" height="15" fill="#fff"/><rect x="259" y="69" width="2" height="2" fill="#fff"/><rect x="277" y="69" width="2" height="2" fill="#fff"/><rect x="260" y="73" width="1" height="1" fill="#fff"/><rect x="260" y="86" width="9" height="1" fill="#fff"/><rect x="270" y="86" width="8" height="1" fill="#fff"/><rect x="260" y="78" width="1" height="5" fill="#fff"/><rect x="272" y="78" width="1" height="5" fill="#fff"/><rect x="260" y="91" width="18" height="31" fill="#fff"/><rect x="268" y="91" width="2" height="22"/><rect x="260" y="99" width="18" height="2"/><rect x="256" y="122" width="26" height="2"/><rect x="260" y="124" width="18" height="8" fill="#fff"/><rect x="258" y="136" width="4" height="245"/><rect x="266" y="136" width="6" height="245"/><rect x="276" y="136" width="4" height="245"/><rect x="252" y="160" width="6" height="30"/><rect x="256" y="164" width="2" height="2" fill="#fff"/><rect x="256" y="171" width="2" height="8" fill="#fff"/><rect x="256" y="184" width="2" height="2" fill="#fff"/><rect x="280" y="160" width="6" height="30"/><rect x="280" y="164" width="2" height="2" fill="#fff"/><rect x="280" y="171" width="2" height="8" fill="#fff"/><rect x="280" y="184" width="2" height="2" fill="#fff"/><rect x="256" y="160" width="2" height="4"/><rect x="256" y="186" width="2" height="4"/><rect x="280" y="160" width="2" height="4"/><rect x="280" y="186" width="2" height="4"/><rect x="252" y="322" width="6" height="28"/><rect x="256" y="326" width="2" height="5" fill="#fff"/><rect x="256" y="334" width="2" height="7" fill="#fff"/><rect x="256" y="344" width="2" height="2" fill="#fff"/><rect x="280" y="322" width="2" height="28"/><rect x="280" y="326" width="2" height="5" fill="#fff"/><rect x="280" y="334" width="2" height="7" fill="#fff"/><rect x="280" y="344" width="2" height="2" fill="#fff"/><rect x="252" y="346" width="34" height="3"/><rect x="258" y="381" width="22" height="38"/><rect x="263" y="413" width="3" height="6" fill="#fff"/><rect x="272" y="413" width="3" height="6" fill="#fff"/><rect x="265" y="387" width="1" height="3" fill="#fff"/><rect x="273" y="387" width="1" height="3" fill="#fff"/><rect x="260" y="419" width="2" height="1"/><rect x="276" y="419" width="2" height="1"/></g><g transform="translate(0,0)"><rect x="256" y="49" width="8" height="13"/><rect x="255" y="50" width="1" height="12"/><rect x="264" y="50" width="1" height="12"/><rect x="265" y="53" width="1" height="9"/><rect x="273" y="49" width="9" height="13"/><rect x="282" y="50" width="1" height="12"/><rect x="265" y="56" width="7" height="6"/><rect x="266" y="54" width="6" height="2"/><rect x="267" y="52" width="4" height="2"/><rect x="268" y="50" width="2" height="2"/><rect x="272" y="59" width="1" height="3"/><rect x="252" y="62" width="35" height="15"/><rect x="251" y="64" width="37" height="11"/><rect x="250" y="66" width="39" height="7"/><rect x="254" y="77" width="31" height="30"/><rect x="253" y="90" width="33" height="5"/><rect x="253" y="104" width="33" height="3"/><rect x="256" y="107" width="26" height="29"/><rect x="253" y="116" width="33" height="13"/><rect x="259" y="53" width="2" height="15" fill="#fff"/><rect x="277" y="53" width="2" height="15" fill="#fff"/><rect x="259" y="69" width="2" height="2" fill="#fff"/><rect x="277" y="69" width="2" height="2" fill="#fff"/><rect x="260" y="73" width="1" height="1" fill="#fff"/><rect x="260" y="86" width="9" height="1" fill="#fff"/><rect x="270" y="86" width="8" height="1" fill="#fff"/><rect x="260" y="78" width="1" height="5" fill="#fff"/><rect x="272" y="78" width="1" height="5" fill="#fff"/><rect x="260" y="91" width="18" height="31" fill="#fff"/><rect x="268" y="91" width="2" height="22"/><rect x="260" y="99" width="18" height="2"/><rect x="256" y="122" width="26" height="2"/><rect x="260" y="124" width="18" height="8" fill="#fff"/><rect x="258" y="136" width="4" height="245"/><rect x="266" y="136" width="6" height="245"/><rect x="276" y="136" width="4" height="245"/><rect x="252" y="160" width="6" height="30"/><rect x="256" y="164" width="2" height="2" fill="#fff"/><rect x="256" y="171" width="2" height="8" fill="#fff"/><rect x="256" y="184" width="2" height="2" fill="#fff"/><rect x="280" y="160" width="6" height="30"/><rect x="280" y="164" width="2" height="2" fill="#fff"/><rect x="280" y="171" width="2" height="8" fill="#fff"/><rect x="280" y="184" width="2" height="2" fill="#fff"/><rect x="256" y="160" width="2" height="4"/><rect x="256" y="186" width="2" height="4"/><rect x="280" y="160" width="2" height="4"/><rect x="280" y="186" width="2" height="4"/><rect x="252" y="322" width="6" height="28"/><rect x="256" y="326" width="2" height="5" fill="#fff"/><rect x="256" y="334" width="2" height="7" fill="#fff"/><rect x="256" y="344" width="2" height="2" fill="#fff"/><rect x="280" y="322" width="2" height="28"/><rect x="280" y="326" width="2" height="5" fill="#fff"/><rect x="280" y="334" width="2" height="7" fill="#fff"/><rect x="280" y="344" width="2" height="2" fill="#fff"/><rect x="252" y="346" width="34" height="3"/><rect x="258" y="381" width="22" height="38"/><rect x="263" y="413" width="3" height="6" fill="#fff"/><rect x="272" y="413" width="3" height="6" fill="#fff"/><rect x="265" y="387" width="1" height="3" fill="#fff"/><rect x="273" y="387" width="1" height="3" fill="#fff"/><rect x="260" y="419" width="2" height="1"/><rect x="276" y="419" width="2" height="1"/></g><g transform="translate(111,0)"><rect x="256" y="49" width="8" height="13"/><rect x="255" y="50" width="1" height="12"/><rect x="264" y="50" width="1" height="12"/><rect x="265" y="53" width="1" height="9"/><rect x="273" y="49" width="9" height="13"/><rect x="282" y="50" width="1" height="12"/><rect x="265" y="56" width="7" height="6"/><rect x="266" y="54" width="6" height="2"/><rect x="267" y="52" width="4" height="2"/><rect x="268" y="50" width="2" height="2"/><rect x="272" y="59" width="1" height="3"/><rect x="252" y="62" width="35" height="15"/><rect x="251" y="64" width="37" height="11"/><rect x="250" y="66" width="39" height="7"/><rect x="254" y="77" width="31" height="30"/><rect x="253" y="90" width="33" height="5"/><rect x="253" y="104" width="33" height="3"/><rect x="256" y="107" width="26" height="29"/><rect x="253" y="116" width="33" height="13"/><rect x="259" y="53" width="2" height="15" fill="#fff"/><rect x="277" y="53" width="2" height="15" fill="#fff"/><rect x="259" y="69" width="2" height="2" fill="#fff"/><rect x="277" y="69" width="2" height="2" fill="#fff"/><rect x="260" y="73" width="1" height="1" fill="#fff"/><rect x="260" y="86" width="9" height="1" fill="#fff"/><rect x="270" y="86" width="8" height="1" fill="#fff"/><rect x="260" y="78" width="1" height="5" fill="#fff"/><rect x="272" y="78" width="1" height="5" fill="#fff"/><rect x="260" y="91" width="18" height="31" fill="#fff"/><rect x="268" y="91" width="2" height="22"/><rect x="260" y="99" width="18" height="2"/><rect x="256" y="122" width="26" height="2"/><rect x="260" y="124" width="18" height="8" fill="#fff"/><rect x="258" y="136" width="4" height="245"/><rect x="266" y="136" width="6" height="245"/><rect x="276" y="136" width="4" height="245"/><rect x="252" y="160" width="6" height="30"/><rect x="256" y="164" width="2" height="2" fill="#fff"/><rect x="256" y="171" width="2" height="8" fill="#fff"/><rect x="256" y="184" width="2" height="2" fill="#fff"/><rect x="280" y="160" width="6" height="30"/><rect x="280" y="164" width="2" height="2" fill="#fff"/><rect x="280" y="171" width="2" height="8" fill="#fff"/><rect x="280" y="184" width="2" height="2" fill="#fff"/><rect x="256" y="160" width="2" height="4"/><rect x="256" y="186" width="2" height="4"/><rect x="280" y="160" width="2" height="4"/><rect x="280" y="186" width="2" height="4"/><rect x="252" y="322" width="6" height="28"/><rect x="256" y="326" width="2" height="5" fill="#fff"/><rect x="256" y="334" width="2" height="7" fill="#fff"/><rect x="256" y="344" width="2" height="2" fill="#fff"/><rect x="280" y="322" width="2" height="28"/><rect x="280" y="326" width="2" height="5" fill="#fff"/><rect x="280" y="334" width="2" height="7" fill="#fff"/><rect x="280" y="344" width="2" height="2" fill="#fff"/><rect x="252" y="346" width="34" height="3"/><rect x="258" y="381" width="22" height="38"/><rect x="263" y="413" width="3" height="6" fill="#fff"/><rect x="272" y="413" width="3" height="6" fill="#fff"/><rect x="265" y="387" width="1" height="3" fill="#fff"/><rect x="273" y="387" width="1" height="3" fill="#fff"/><rect x="260" y="419" width="2" height="1"/><rect x="276" y="419" width="2" height="1"/></g>
<g><rect x="115" y="411" width="32" height="4"/><rect x="131" y="415" width="2" height="4"/><rect x="129" y="416" width="7" height="1"/><rect x="98" y="425" width="4" height="53"/><rect x="98" y="474" width="144" height="4"/><rect x="238" y="400" width="4" height="78"/><rect x="111" y="419" width="58" height="4"/><rect x="111" y="466" width="58" height="4"/><rect x="111" y="419" width="4" height="51"/><rect x="163" y="419" width="6" height="51"/><rect x="123" y="419" width="2" height="48"/><rect x="128" y="423" width="1" height="7"/><rect x="126" y="426" width="6" height="1"/><rect x="160" y="423" width="1" height="7"/><rect x="158" y="426" width="6" height="1"/><rect x="128" y="459" width="1" height="7"/><rect x="126" y="462" width="6" height="1"/><rect x="160" y="459" width="1" height="7"/><rect x="158" y="462" width="6" height="1"/><rect x="131" y="468" width="1" height="6"/><rect x="127" y="471" width="9" height="1"/><rect x="130" y="470" width="3" height="3"/><rect x="190" y="468" width="1" height="6"/><rect x="186" y="471" width="9" height="1"/><rect x="189" y="470" width="3" height="3"/><rect x="235" y="468" width="1" height="6"/><rect x="231" y="471" width="9" height="1"/><rect x="234" y="470" width="3" height="3"/><rect x="82" y="443" width="95" height="2"/><rect x="109" y="421" width="6" height="47"/><rect x="103" y="434" width="5" height="22"/><rect x="104" y="431" width="4" height="3"/><rect x="104" y="456" width="4" height="3"/><rect x="105" y="428" width="4" height="3"/><rect x="105" y="459" width="4" height="3"/><rect x="170" y="428" width="4" height="35"/><rect x="174" y="433" width="3" height="24"/><rect x="169" y="428" width="2" height="2"/><rect x="169" y="461" width="2" height="2"/><rect x="176" y="439" width="18" height="10"/><rect x="193" y="383" width="4" height="73"/><rect x="199" y="383" width="5" height="73"/><rect x="224" y="383" width="4" height="73"/><rect x="229" y="383" width="4" height="73"/><rect x="193" y="451" width="40" height="5"/><rect x="204" y="443" width="21" height="2"/><rect x="204" y="445" width="9" height="6" fill="#fff"/><rect x="215" y="445" width="9" height="6" fill="#fff"/><rect x="213" y="425" width="2" height="50"/><rect x="224" y="366" width="9" height="90"/><rect x="228" y="387" width="2" height="64" fill="#fff"/><rect x="232" y="370" width="8" height="51"/><rect x="232" y="369" width="7" height="1"/><rect x="240" y="372" width="1" height="48"/><rect x="233" y="391" width="6" height="4" fill="#fff"/><rect x="233" y="397" width="6" height="7" fill="#fff"/><rect x="233" y="406" width="6" height="3" fill="#fff"/><rect x="231" y="377" width="4" height="3" fill="#fff"/><rect x="233" y="380" width="6" height="5" fill="#fff"/><rect x="241" y="383" width="9" height="35"/><rect x="242" y="382" width="7" height="37"/><rect x="193" y="366" width="11" height="90"/><rect x="197" y="387" width="2" height="64" fill="#fff"/><rect x="185" y="370" width="9" height="51"/><rect x="186" y="369" width="8" height="1"/><rect x="184" y="372" width="1" height="48"/><rect x="188" y="380" width="5" height="7" fill="#fff"/><rect x="188" y="391" width="5" height="5" fill="#fff"/><rect x="188" y="397" width="5" height="7" fill="#fff"/><rect x="188" y="405" width="5" height="5" fill="#fff"/><rect x="179" y="383" width="6" height="35"/><rect x="180" y="382" width="5" height="37"/><rect x="169" y="386" width="10" height="31"/><rect x="172" y="391" width="6" height="8" fill="#fff"/><rect x="172" y="401" width="6" height="8" fill="#fff"/><rect x="250" y="387" width="7" height="4"/><rect x="250" y="409" width="7" height="4"/><rect x="256" y="387" width="2" height="26"/><rect x="189" y="416" width="3" height="4"/><rect x="233" y="433" width="3" height="14"/><rect x="236" y="436" width="1" height="7"/><rect x="212" y="150" width="1" height="94" fill="#fff"/></g>
</g>
<g><rect x="412" y="77" width="1" height="1"/><rect x="412" y="82" width="1" height="1"/><rect x="413" y="77" width="1" height="1"/><rect x="413" y="82" width="1" height="1"/><rect x="413" y="86" width="1" height="1"/><rect x="414" y="77" width="1" height="1"/><rect x="414" y="81" width="1" height="1"/><rect x="414" y="87" width="1" height="1"/><rect x="415" y="74" width="1" height="1"/><rect x="415" y="75" width="1" height="1"/><rect x="415" y="76" width="1" height="1"/><rect x="415" y="77" width="1" height="1"/><rect x="415" y="78" width="1" height="1"/><rect x="415" y="79" width="1" height="1"/><rect x="415" y="80" width="1" height="1"/><rect x="415" y="81" width="1" height="1"/><rect x="415" y="82" width="1" height="1"/><rect x="415" y="83" width="1" height="1"/><rect x="415" y="84" width="1" height="1"/><rect x="415" y="85" width="1" height="1"/><rect x="415" y="86" width="1" height="1"/><rect x="416" y="77" width="1" height="1"/><rect x="416" y="80" width="1" height="1"/><rect x="417" y="77" width="1" height="1"/><rect x="417" y="80" width="1" height="1"/><rect x="418" y="76" width="1" height="1"/><rect x="419" y="76" width="1" height="1"/><rect x="420" y="76" width="1" height="1"/><rect x="420" y="86" width="1" height="1"/><rect x="421" y="76" width="1" height="1"/><rect x="421" y="87" width="1" height="1"/><rect x="422" y="76" width="1" height="1"/><rect x="422" y="77" width="1" height="1"/><rect x="422" y="78" width="1" height="1"/><rect x="422" y="79" width="1" height="1"/><rect x="422" y="80" width="1" height="1"/><rect x="422" y="81" width="1" height="1"/><rect x="422" y="82" width="1" height="1"/><rect x="422" y="83" width="1" height="1"/><rect x="422" y="84" width="1" height="1"/><rect x="422" y="85" width="1" height="1"/><rect x="422" y="86" width="1" height="1"/><rect x="423" y="76" width="1" height="1"/><rect x="424" y="75" width="1" height="1"/><rect x="424" y="76" width="1" height="1"/><rect x="425" y="76" width="1" height="1"/><rect x="429" y="76" width="1" height="1"/><rect x="429" y="77" width="1" height="1"/><rect x="429" y="78" width="1" height="1"/><rect x="429" y="79" width="1" height="1"/><rect x="429" y="80" width="1" height="1"/><rect x="429" y="81" width="1" height="1"/><rect x="429" y="82" width="1" height="1"/><rect x="429" y="83" width="1" height="1"/><rect x="429" y="84" width="1" height="1"/><rect x="429" y="85" width="1" height="1"/><rect x="430" y="76" width="1" height="1"/><rect x="430" y="80" width="1" height="1"/><rect x="430" y="84" width="1" height="1"/><rect x="430" y="85" width="1" height="1"/><rect x="431" y="76" width="1" height="1"/><rect x="431" y="80" width="1" height="1"/><rect x="431" y="84" width="1" height="1"/><rect x="432" y="75" width="1" height="1"/><rect x="432" y="80" width="1" height="1"/><rect x="432" y="84" width="1" height="1"/><rect x="433" y="74" width="1" height="1"/><rect x="433" y="75" width="1" height="1"/><rect x="433" y="80" width="1" height="1"/><rect x="433" y="83" width="1" height="1"/><rect x="434" y="75" width="1" height="1"/><rect x="434" y="83" width="1" height="1"/><rect x="436" y="76" width="1" height="1"/><rect x="436" y="77" width="1" height="1"/><rect x="436" y="78" width="1" height="1"/><rect x="436" y="79" width="1" height="1"/><rect x="436" y="80" width="1" height="1"/><rect x="436" y="81" width="1" height="1"/><rect x="436" y="82" width="1" height="1"/><rect x="436" y="83" width="1" height="1"/><rect x="436" y="84" width="1" height="1"/><rect x="436" y="85" width="1" height="1"/><rect x="436" y="86" width="1" height="1"/><rect x="436" y="87" width="1" height="1"/><rect x="437" y="76" width="1" height="1"/><rect x="438" y="76" width="1" height="1"/><rect x="438" y="83" width="1" height="1"/><rect x="439" y="76" width="1" height="1"/><rect x="439" y="84" width="1" height="1"/><rect x="440" y="76" width="1" height="1"/><rect x="440" y="77" width="1" height="1"/><rect x="440" y="78" width="1" height="1"/><rect x="440" y="79" width="1" height="1"/><rect x="440" y="80" width="1" height="1"/><rect x="440" y="81" width="1" height="1"/><rect x="440" y="82" width="1" height="1"/><rect x="440" y="83" width="1" height="1"/><rect x="445" y="77" width="1" height="1"/><rect x="445" y="78" width="1" height="1"/><rect x="445" y="79" width="1" height="1"/><rect x="445" y="80" width="1" height="1"/><rect x="445" y="81" width="1" height="1"/><rect x="445" y="82" width="1" height="1"/><rect x="445" y="83" width="1" height="1"/><rect x="445" y="84" width="1" height="1"/><rect x="445" y="85" width="1" height="1"/><rect x="445" y="86" width="1" height="1"/><rect x="445" y="87" width="1" height="1"/><rect x="446" y="76" width="1" height="1"/><rect x="446" y="77" width="1" height="1"/><rect x="446" y="81" width="1" height="1"/><rect x="446" y="86" width="1" height="1"/><rect x="447" y="74" width="1" height="1"/><rect x="447" y="75" width="1" height="1"/><rect x="447" y="77" width="1" height="1"/><rect x="447" y="81" width="1" height="1"/><rect x="447" y="86" width="1" height="1"/><rect x="448" y="77" width="1" height="1"/><rect x="448" y="81" width="1" height="1"/><rect x="448" y="86" width="1" height="1"/><rect x="449" y="77" width="1" height="1"/><rect x="449" y="78" width="1" height="1"/><rect x="449" y="79" width="1" height="1"/><rect x="449" y="80" width="1" height="1"/><rect x="449" y="81" width="1" height="1"/><rect x="449" y="82" width="1" height="1"/><rect x="449" y="83" width="1" height="1"/><rect x="449" y="84" width="1" height="1"/><rect x="449" y="85" width="1" height="1"/><rect x="449" y="86" width="1" height="1"/><rect x="449" y="87" width="1" height="1"/><rect x="450" y="79" width="1" height="1"/><rect x="451" y="78" width="1" height="1"/><rect x="452" y="76" width="1" height="1"/><rect x="452" y="77" width="1" height="1"/><rect x="452" y="80" width="1" height="1"/><rect x="453" y="74" width="1" height="1"/><rect x="453" y="75" width="1" height="1"/><rect x="453" y="77" width="1" height="1"/><rect x="453" y="81" width="1" height="1"/><rect x="453" y="82" width="1" height="1"/><rect x="453" y="86" width="1" height="1"/><rect x="454" y="77" width="1" height="1"/><rect x="454" y="87" width="1" height="1"/><rect x="455" y="77" width="1" height="1"/><rect x="455" y="86" width="1" height="1"/><rect x="456" y="77" width="1" height="1"/><rect x="456" y="78" width="1" height="1"/><rect x="456" y="79" width="1" height="1"/><rect x="456" y="80" width="1" height="1"/><rect x="456" y="81" width="1" height="1"/><rect x="456" y="82" width="1" height="1"/><rect x="456" y="83" width="1" height="1"/><rect x="456" y="84" width="1" height="1"/><rect x="456" y="85" width="1" height="1"/><rect x="457" y="77" width="1" height="1"/><rect x="460" y="77" width="1" height="1"/><rect x="460" y="82" width="1" height="1"/><rect x="460" y="83" width="1" height="1"/><rect x="461" y="77" width="1" height="1"/><rect x="461" y="80" width="1" height="1"/><rect x="462" y="74" width="1" height="1"/><rect x="462" y="75" width="1" height="1"/><rect x="462" y="76" width="1" height="1"/><rect x="462" y="77" width="1" height="1"/><rect x="462" y="78" width="1" height="1"/><rect x="462" y="79" width="1" height="1"/><rect x="462" y="80" width="1" height="1"/><rect x="462" y="81" width="1" height="1"/><rect x="462" y="82" width="1" height="1"/><rect x="462" y="83" width="1" height="1"/><rect x="462" y="84" width="1" height="1"/><rect x="462" y="85" width="1" height="1"/><rect x="462" y="86" width="1" height="1"/><rect x="462" y="87" width="1" height="1"/><rect x="463" y="77" width="1" height="1"/><rect x="464" y="77" width="1" height="1"/><rect x="464" y="80" width="1" height="1"/><rect x="464" y="81" width="1" height="1"/><rect x="464" y="84" width="1" height="1"/><rect x="464" y="87" width="1" height="1"/><rect x="465" y="76" width="1" height="1"/><rect x="465" y="84" width="1" height="1"/><rect x="465" y="87" width="1" height="1"/><rect x="466" y="76" width="1" height="1"/><rect x="466" y="77" width="1" height="1"/><rect x="466" y="78" width="1" height="1"/><rect x="466" y="79" width="1" height="1"/><rect x="466" y="80" width="1" height="1"/><rect x="466" y="81" width="1" height="1"/><rect x="466" y="84" width="1" height="1"/><rect x="466" y="86" width="1" height="1"/><rect x="467" y="74" width="1" height="1"/><rect x="467" y="75" width="1" height="1"/><rect x="467" y="76" width="1" height="1"/><rect x="467" y="77" width="1" height="1"/><rect x="467" y="79" width="1" height="1"/><rect x="467" y="81" width="1" height="1"/><rect x="467" y="84" width="1" height="1"/><rect x="467" y="85" width="1" height="1"/><rect x="468" y="76" width="1" height="1"/><rect x="468" y="77" width="1" height="1"/><rect x="468" y="79" width="1" height="1"/><rect x="468" y="81" width="1" height="1"/><rect x="468" y="82" width="1" height="1"/><rect x="468" y="83" width="1" height="1"/><rect x="468" y="84" width="1" height="1"/><rect x="469" y="76" width="1" height="1"/><rect x="469" y="77" width="1" height="1"/><rect x="469" y="79" width="1" height="1"/><rect x="469" y="81" width="1" height="1"/><rect x="469" y="84" width="1" height="1"/><rect x="470" y="74" width="1" height="1"/><rect x="470" y="75" width="1" height="1"/><rect x="470" y="76" width="1" height="1"/><rect x="470" y="77" width="1" height="1"/><rect x="470" y="79" width="1" height="1"/><rect x="470" y="81" width="1" height="1"/><rect x="470" y="84" width="1" height="1"/><rect x="470" y="85" width="1" height="1"/><rect x="471" y="76" width="1" height="1"/><rect x="471" y="77" width="1" height="1"/><rect x="471" y="78" width="1" height="1"/><rect x="471" y="79" width="1" height="1"/><rect x="471" y="80" width="1" height="1"/><rect x="471" y="81" width="1" height="1"/><rect x="471" y="84" width="1" height="1"/><rect x="471" y="86" width="1" height="1"/><rect x="472" y="76" width="1" height="1"/><rect x="472" y="84" width="1" height="1"/><rect x="472" y="87" width="1" height="1"/><rect x="473" y="75" width="1" height="1"/><rect x="473" y="76" width="1" height="1"/><rect x="473" y="84" width="1" height="1"/><rect x="473" y="87" width="1" height="1"/><rect x="476" y="76" width="1" height="1"/><rect x="476" y="79" width="1" height="1"/><rect x="476" y="83" width="1" height="1"/><rect x="476" y="84" width="1" height="1"/><rect x="477" y="79" width="1" height="1"/><rect x="477" y="81" width="1" height="1"/><rect x="478" y="74" width="1" height="1"/><rect x="478" y="75" width="1" height="1"/><rect x="478" y="76" width="1" height="1"/><rect x="478" y="77" width="1" height="1"/><rect x="478" y="78" width="1" height="1"/><rect x="478" y="79" width="1" height="1"/><rect x="478" y="80" width="1" height="1"/><rect x="478" y="81" width="1" height="1"/><rect x="478" y="82" width="1" height="1"/><rect x="478" y="83" width="1" height="1"/><rect x="478" y="84" width="1" height="1"/><rect x="478" y="85" width="1" height="1"/><rect x="478" y="86" width="1" height="1"/><rect x="478" y="87" width="1" height="1"/><rect x="479" y="79" width="1" height="1"/><rect x="479" y="81" width="1" height="1"/><rect x="480" y="76" width="1" height="1"/><rect x="480" y="77" width="1" height="1"/><rect x="480" y="79" width="1" height="1"/><rect x="480" y="82" width="1" height="1"/><rect x="481" y="77" width="1" height="1"/><rect x="481" y="81" width="1" height="1"/><rect x="481" y="82" width="1" height="1"/><rect x="481" y="83" width="1" height="1"/><rect x="481" y="84" width="1" height="1"/><rect x="482" y="74" width="1" height="1"/><rect x="482" y="75" width="1" height="1"/><rect x="482" y="76" width="1" height="1"/><rect x="482" y="77" width="1" height="1"/><rect x="482" y="78" width="1" height="1"/><rect x="482" y="79" width="1" height="1"/><rect x="482" y="80" width="1" height="1"/><rect x="482" y="81" width="1" height="1"/><rect x="482" y="84" width="1" height="1"/><rect x="482" y="87" width="1" height="1"/><rect x="483" y="77" width="1" height="1"/><rect x="483" y="81" width="1" height="1"/><rect x="483" y="82" width="1" height="1"/><rect x="483" y="83" width="1" height="1"/><rect x="483" y="84" width="1" height="1"/><rect x="483" y="86" width="1" height="1"/><rect x="484" y="85" width="1" height="1"/><rect x="485" y="75" width="1" height="1"/><rect x="485" y="76" width="1" height="1"/><rect x="485" y="77" width="1" height="1"/><rect x="485" y="78" width="1" height="1"/><rect x="485" y="79" width="1" height="1"/><rect x="485" y="80" width="1" height="1"/><rect x="485" y="81" width="1" height="1"/><rect x="485" y="82" width="1" height="1"/><rect x="485" y="83" width="1" height="1"/><rect x="485" y="84" width="1" height="1"/><rect x="485" y="85" width="1" height="1"/><rect x="486" y="75" width="1" height="1"/><rect x="486" y="78" width="1" height="1"/><rect x="486" y="81" width="1" height="1"/><rect x="486" y="86" width="1" height="1"/><rect x="487" y="75" width="1" height="1"/><rect x="487" y="78" width="1" height="1"/><rect x="487" y="81" width="1" height="1"/><rect x="487" y="86" width="1" height="1"/><rect x="488" y="75" width="1" height="1"/><rect x="488" y="76" width="1" height="1"/><rect x="488" y="77" width="1" height="1"/><rect x="488" y="78" width="1" height="1"/><rect x="488" y="79" width="1" height="1"/><rect x="488" y="80" width="1" height="1"/><rect x="488" y="81" width="1" height="1"/><rect x="488" y="82" width="1" height="1"/><rect x="488" y="83" width="1" height="1"/><rect x="488" y="84" width="1" height="1"/><rect x="488" y="85" width="1" height="1"/><rect x="488" y="86" width="1" height="1"/><rect x="488" y="87" width="1" height="1"/><rect x="494" y="75" width="1" height="1"/><rect x="495" y="75" width="1" height="1"/><rect x="496" y="75" width="1" height="1"/><rect x="497" y="75" width="1" height="1"/><rect x="497" y="86" width="1" height="1"/><rect x="498" y="75" width="1" height="1"/><rect x="498" y="87" width="1" height="1"/><rect x="499" y="75" width="1" height="1"/><rect x="499" y="78" width="1" height="1"/><rect x="499" y="79" width="1" height="1"/><rect x="499" y="80" width="1" height="1"/><rect x="499" y="81" width="1" height="1"/><rect x="499" y="82" width="1" height="1"/><rect x="499" y="83" width="1" height="1"/><rect x="499" y="84" width="1" height="1"/><rect x="499" y="85" width="1" height="1"/><rect x="499" y="86" width="1" height="1"/><rect x="500" y="75" width="1" height="1"/><rect x="500" y="78" width="1" height="1"/><rect x="501" y="75" width="1" height="1"/><rect x="501" y="77" width="1" height="1"/><rect x="502" y="75" width="1" height="1"/><rect x="502" y="76" width="1" height="1"/><rect x="503" y="74" width="1" height="1"/><rect x="503" y="75" width="1" height="1"/><rect x="504" y="75" width="1" height="1"/><rect x="508" y="79" width="1" height="1"/><rect x="508" y="86" width="1" height="1"/><rect x="509" y="74" width="1" height="1"/><rect x="509" y="79" width="1" height="1"/><rect x="509" y="85" width="1" height="1"/><rect x="510" y="75" width="1" height="1"/><rect x="510" y="76" width="1" height="1"/><rect x="510" y="79" width="1" height="1"/><rect x="510" y="80" width="1" height="1"/><rect x="510" y="81" width="1" height="1"/><rect x="510" y="82" width="1" height="1"/><rect x="510" y="83" width="1" height="1"/><rect x="510" y="84" width="1" height="1"/><rect x="511" y="85" width="1" height="1"/><rect x="512" y="77" width="1" height="1"/><rect x="512" y="86" width="1" height="1"/><rect x="513" y="77" width="1" height="1"/><rect x="513" y="84" width="1" height="1"/><rect x="513" y="86" width="1" height="1"/><rect x="514" y="77" width="1" height="1"/><rect x="514" y="79" width="1" height="1"/><rect x="514" y="83" width="1" height="1"/><rect x="514" y="87" width="1" height="1"/><rect x="515" y="74" width="1" height="1"/><rect x="515" y="77" width="1" height="1"/><rect x="515" y="80" width="1" height="1"/><rect x="515" y="82" width="1" height="1"/><rect x="515" y="87" width="1" height="1"/><rect x="516" y="75" width="1" height="1"/><rect x="516" y="76" width="1" height="1"/><rect x="516" y="77" width="1" height="1"/><rect x="516" y="81" width="1" height="1"/><rect x="516" y="87" width="1" height="1"/><rect x="517" y="77" width="1" height="1"/><rect x="517" y="80" width="1" height="1"/><rect x="517" y="82" width="1" height="1"/><rect x="517" y="87" width="1" height="1"/><rect x="518" y="77" width="1" height="1"/><rect x="518" y="78" width="1" height="1"/><rect x="518" y="79" width="1" height="1"/><rect x="518" y="83" width="1" height="1"/><rect x="518" y="87" width="1" height="1"/><rect x="519" y="77" width="1" height="1"/><rect x="519" y="84" width="1" height="1"/><rect x="519" y="87" width="1" height="1"/><rect x="520" y="76" width="1" height="1"/><rect x="520" y="77" width="1" height="1"/><rect x="520" y="87" width="1" height="1"/><rect x="521" y="77" width="1" height="1"/><rect x="521" y="87" width="1" height="1"/><rect x="524" y="80" width="1" height="1"/><rect x="525" y="80" width="1" height="1"/><rect x="526" y="79" width="1" height="1"/><rect x="527" y="78" width="1" height="1"/><rect x="528" y="77" width="1" height="1"/><rect x="529" y="76" width="1" height="1"/><rect x="530" y="74" width="1" height="1"/><rect x="530" y="75" width="1" height="1"/><rect x="530" y="79" width="1" height="1"/><rect x="530" y="80" width="1" height="1"/><rect x="530" y="81" width="1" height="1"/><rect x="530" y="82" width="1" height="1"/><rect x="530" y="83" width="1" height="1"/><rect x="530" y="84" width="1" height="1"/><rect x="530" y="85" width="1" height="1"/><rect x="530" y="86" width="1" height="1"/><rect x="530" y="87" width="1" height="1"/><rect x="531" y="76" width="1" height="1"/><rect x="532" y="77" width="1" height="1"/><rect x="533" y="78" width="1" height="1"/><rect x="534" y="79" width="1" height="1"/><rect x="535" y="79" width="1" height="1"/><rect x="536" y="80" width="1" height="1"/><rect x="537" y="80" width="1" height="1"/><rect x="540" y="76" width="1" height="1"/><rect x="541" y="76" width="1" height="1"/><rect x="541" y="80" width="1" height="1"/><rect x="541" y="81" width="1" height="1"/><rect x="541" y="82" width="1" height="1"/><rect x="541" y="83" width="1" height="1"/><rect x="541" y="84" width="1" height="1"/><rect x="541" y="85" width="1" height="1"/><rect x="541" y="86" width="1" height="1"/><rect x="542" y="76" width="1" height="1"/><rect x="542" y="80" width="1" height="1"/><rect x="542" y="86" width="1" height="1"/><rect x="543" y="76" width="1" height="1"/><rect x="543" y="80" width="1" height="1"/><rect x="543" y="85" width="1" height="1"/><rect x="544" y="76" width="1" height="1"/><rect x="544" y="80" width="1" height="1"/><rect x="544" y="85" width="1" height="1"/><rect x="545" y="75" width="1" height="1"/><rect x="545" y="76" width="1" height="1"/><rect x="545" y="77" width="1" height="1"/><rect x="545" y="78" width="1" height="1"/><rect x="545" y="79" width="1" height="1"/><rect x="545" y="80" width="1" height="1"/><rect x="545" y="84" width="1" height="1"/><rect x="545" y="87" width="1" height="1"/><rect x="546" y="76" width="1" height="1"/><rect x="546" y="80" width="1" height="1"/><rect x="546" y="87" width="1" height="1"/><rect x="547" y="78" width="1" height="1"/><rect x="547" y="79" width="1" height="1"/><rect x="547" y="86" width="1" height="1"/><rect x="548" y="74" width="1" height="1"/><rect x="548" y="75" width="1" height="1"/><rect x="548" y="76" width="1" height="1"/><rect x="548" y="77" width="1" height="1"/><rect x="548" y="78" width="1" height="1"/><rect x="548" y="79" width="1" height="1"/><rect x="548" y="80" width="1" height="1"/><rect x="548" y="81" width="1" height="1"/><rect x="548" y="82" width="1" height="1"/><rect x="548" y="85" width="1" height="1"/><rect x="549" y="78" width="1" height="1"/><rect x="549" y="84" width="1" height="1"/><rect x="550" y="78" width="1" height="1"/><rect x="550" y="83" width="1" height="1"/><rect x="550" y="84" width="1" height="1"/><rect x="551" y="78" width="1" height="1"/><rect x="551" y="79" width="1" height="1"/><rect x="551" y="80" width="1" height="1"/><rect x="551" y="81" width="1" height="1"/><rect x="551" y="82" width="1" height="1"/><rect x="551" y="85" width="1" height="1"/><rect x="552" y="77" width="1" height="1"/><rect x="552" y="78" width="1" height="1"/><rect x="552" y="86" width="1" height="1"/><rect x="552" y="87" width="1" height="1"/><rect x="553" y="78" width="1" height="1"/><rect x="553" y="87" width="1" height="1"/><rect x="557" y="79" width="1" height="1"/><rect x="557" y="86" width="1" height="1"/><rect x="558" y="77" width="1" height="1"/><rect x="558" y="78" width="1" height="1"/><rect x="558" y="84" width="1" height="1"/><rect x="558" y="85" width="1" height="1"/><rect x="559" y="76" width="1" height="1"/><rect x="560" y="74" width="1" height="1"/><rect x="560" y="75" width="1" height="1"/><rect x="560" y="76" width="1" height="1"/><rect x="560" y="83" width="1" height="1"/><rect x="560" y="84" width="1" height="1"/><rect x="560" y="85" width="1" height="1"/><rect x="560" y="86" width="1" height="1"/><rect x="560" y="87" width="1" height="1"/><rect x="561" y="76" width="1" height="1"/><rect x="561" y="77" width="1" height="1"/><rect x="561" y="78" width="1" height="1"/><rect x="561" y="79" width="1" height="1"/><rect x="561" y="80" width="1" height="1"/><rect x="561" y="81" width="1" height="1"/><rect x="561" y="82" width="1" height="1"/><rect x="561" y="87" width="1" height="1"/><rect x="562" y="76" width="1" height="1"/><rect x="562" y="78" width="1" height="1"/><rect x="562" y="81" width="1" height="1"/><rect x="562" y="83" width="1" height="1"/><rect x="562" y="87" width="1" height="1"/><rect x="563" y="76" width="1" height="1"/><rect x="563" y="78" width="1" height="1"/><rect x="563" y="81" width="1" height="1"/><rect x="563" y="84" width="1" height="1"/><rect x="563" y="85" width="1" height="1"/><rect x="563" y="87" width="1" height="1"/><rect x="564" y="76" width="1" height="1"/><rect x="564" y="78" width="1" height="1"/><rect x="564" y="81" width="1" height="1"/><rect x="564" y="87" width="1" height="1"/><rect x="565" y="76" width="1" height="1"/><rect x="565" y="78" width="1" height="1"/><rect x="565" y="81" width="1" height="1"/><rect x="565" y="87" width="1" height="1"/><rect x="566" y="76" width="1" height="1"/><rect x="566" y="78" width="1" height="1"/><rect x="566" y="81" width="1" height="1"/><rect x="566" y="85" width="1" height="1"/><rect x="566" y="86" width="1" height="1"/><rect x="566" y="87" width="1" height="1"/><rect x="567" y="76" width="1" height="1"/><rect x="567" y="78" width="1" height="1"/><rect x="567" y="80" width="1" height="1"/><rect x="567" y="81" width="1" height="1"/><rect x="567" y="83" width="1" height="1"/><rect x="568" y="75" width="1" height="1"/><rect x="568" y="76" width="1" height="1"/><rect x="568" y="81" width="1" height="1"/><rect x="568" y="84" width="1" height="1"/><rect x="569" y="76" width="1" height="1"/><rect x="569" y="85" width="1" height="1"/><rect x="413" y="96" width="1" height="1"/><rect x="414" y="95" width="1" height="1"/><rect x="414" y="100" width="1" height="1"/><rect x="415" y="94" width="1" height="1"/><rect x="415" y="100" width="1" height="1"/><rect x="415" y="101" width="1" height="1"/><rect x="416" y="93" width="1" height="1"/><rect x="416" y="99" width="1" height="1"/><rect x="416" y="100" width="1" height="1"/><rect x="417" y="92" width="1" height="1"/><rect x="417" y="98" width="1" height="1"/><rect x="417" y="100" width="1" height="1"/><rect x="418" y="91" width="1" height="1"/><rect x="418" y="97" width="1" height="1"/><rect x="418" y="100" width="1" height="1"/><rect x="419" y="89" width="1" height="1"/><rect x="419" y="90" width="1" height="1"/><rect x="419" y="96" width="1" height="1"/><rect x="419" y="100" width="1" height="1"/><rect x="420" y="95" width="1" height="1"/><rect x="420" y="100" width="1" height="1"/><rect x="421" y="93" width="1" height="1"/><rect x="421" y="94" width="1" height="1"/><rect x="421" y="97" width="1" height="1"/><rect x="421" y="100" width="1" height="1"/><rect x="422" y="98" width="1" height="1"/><rect x="422" y="100" width="1" height="1"/><rect x="423" y="99" width="1" height="1"/><rect x="423" y="100" width="1" height="1"/><rect x="424" y="100" width="1" height="1"/><rect x="424" y="101" width="1" height="1"/><rect x="429" y="92" width="1" height="1"/><rect x="429" y="97" width="1" height="1"/><rect x="429" y="102" width="1" height="1"/><rect x="430" y="92" width="1" height="1"/><rect x="430" y="95" width="1" height="1"/><rect x="430" y="96" width="1" height="1"/><rect x="430" y="101" width="1" height="1"/><rect x="431" y="92" width="1" height="1"/><rect x="431" y="100" width="1" height="1"/><rect x="432" y="92" width="1" height="1"/><rect x="432" y="98" width="1" height="1"/><rect x="432" y="99" width="1" height="1"/><rect x="433" y="89" width="1" height="1"/><rect x="433" y="90" width="1" height="1"/><rect x="433" y="91" width="1" height="1"/><rect x="433" y="92" width="1" height="1"/><rect x="433" y="93" width="1" height="1"/><rect x="433" y="94" width="1" height="1"/><rect x="433" y="95" width="1" height="1"/><rect x="433" y="96" width="1" height="1"/><rect x="433" y="97" width="1" height="1"/><rect x="434" y="92" width="1" height="1"/><rect x="434" y="101" width="1" height="1"/><rect x="435" y="92" width="1" height="1"/><rect x="435" y="102" width="1" height="1"/><rect x="436" y="92" width="1" height="1"/><rect x="436" y="102" width="1" height="1"/><rect x="437" y="92" width="1" height="1"/><rect x="437" y="101" width="1" height="1"/><rect x="438" y="91" width="1" height="1"/><rect x="438" y="92" width="1" height="1"/><rect x="438" y="93" width="1" height="1"/><rect x="438" y="94" width="1" height="1"/><rect x="438" y="95" width="1" height="1"/><rect x="438" y="96" width="1" height="1"/><rect x="438" y="97" width="1" height="1"/><rect x="438" y="98" width="1" height="1"/><rect x="438" y="99" width="1" height="1"/><rect x="438" y="100" width="1" height="1"/><rect x="439" y="92" width="1" height="1"/><rect x="439" y="95" width="1" height="1"/><rect x="440" y="96" width="1" height="1"/><rect x="441" y="97" width="1" height="1"/><rect x="441" y="98" width="1" height="1"/><rect x="444" y="91" width="1" height="1"/><rect x="444" y="92" width="1" height="1"/><rect x="444" y="93" width="1" height="1"/><rect x="444" y="94" width="1" height="1"/><rect x="444" y="95" width="1" height="1"/><rect x="444" y="96" width="1" height="1"/><rect x="444" y="97" width="1" height="1"/><rect x="444" y="98" width="1" height="1"/><rect x="445" y="91" width="1" height="1"/><rect x="445" y="97" width="1" height="1"/><rect x="446" y="91" width="1" height="1"/><rect x="446" y="92" width="1" height="1"/><rect x="446" y="93" width="1" height="1"/><rect x="446" y="94" width="1" height="1"/><rect x="446" y="95" width="1" height="1"/><rect x="446" y="96" width="1" height="1"/><rect x="446" y="97" width="1" height="1"/><rect x="446" y="98" width="1" height="1"/><rect x="448" y="90" width="1" height="1"/><rect x="448" y="91" width="1" height="1"/><rect x="448" y="92" width="1" height="1"/><rect x="448" y="93" width="1" height="1"/><rect x="448" y="94" width="1" height="1"/><rect x="448" y="95" width="1" height="1"/><rect x="448" y="96" width="1" height="1"/><rect x="448" y="97" width="1" height="1"/><rect x="448" y="98" width="1" height="1"/><rect x="448" y="99" width="1" height="1"/><rect x="448" y="100" width="1" height="1"/><rect x="448" y="101" width="1" height="1"/><rect x="448" y="102" width="1" height="1"/><rect x="449" y="90" width="1" height="1"/><rect x="449" y="98" width="1" height="1"/><rect x="450" y="90" width="1" height="1"/><rect x="450" y="92" width="1" height="1"/><rect x="450" y="98" width="1" height="1"/><rect x="451" y="90" width="1" height="1"/><rect x="451" y="91" width="1" height="1"/><rect x="451" y="93" width="1" height="1"/><rect x="451" y="94" width="1" height="1"/><rect x="451" y="95" width="1" height="1"/><rect x="451" y="96" width="1" height="1"/><rect x="451" y="97" width="1" height="1"/><rect x="451" y="98" width="1" height="1"/><rect x="452" y="93" width="1" height="1"/><rect x="452" y="94" width="1" height="1"/><rect x="452" y="95" width="1" height="1"/><rect x="452" y="96" width="1" height="1"/><rect x="452" y="97" width="1" height="1"/><rect x="453" y="90" width="1" height="1"/><rect x="453" y="93" width="1" height="1"/><rect x="453" y="97" width="1" height="1"/><rect x="454" y="90" width="1" height="1"/><rect x="454" y="93" width="1" height="1"/><rect x="454" y="94" width="1" height="1"/><rect x="454" y="95" width="1" height="1"/><rect x="454" y="96" width="1" height="1"/><rect x="454" y="97" width="1" height="1"/><rect x="454" y="101" width="1" height="1"/><rect x="455" y="90" width="1" height="1"/><rect x="455" y="102" width="1" height="1"/><rect x="456" y="89" width="1" height="1"/><rect x="456" y="90" width="1" height="1"/><rect x="456" y="91" width="1" height="1"/><rect x="456" y="92" width="1" height="1"/><rect x="456" y="93" width="1" height="1"/><rect x="456" y="94" width="1" height="1"/><rect x="456" y="95" width="1" height="1"/><rect x="456" y="96" width="1" height="1"/><rect x="456" y="97" width="1" height="1"/><rect x="456" y="98" width="1" height="1"/><rect x="456" y="99" width="1" height="1"/><rect x="456" y="100" width="1" height="1"/><rect x="456" y="101" width="1" height="1"/><rect x="457" y="90" width="1" height="1"/><rect x="461" y="91" width="1" height="1"/><rect x="461" y="92" width="1" height="1"/><rect x="462" y="90" width="1" height="1"/><rect x="463" y="90" width="1" height="1"/><rect x="463" y="99" width="1" height="1"/><rect x="463" y="100" width="1" height="1"/><rect x="464" y="90" width="1" height="1"/><rect x="464" y="95" width="1" height="1"/><rect x="464" y="96" width="1" height="1"/><rect x="464" y="97" width="1" height="1"/><rect x="464" y="99" width="1" height="1"/><rect x="464" y="100" width="1" height="1"/><rect x="465" y="90" width="1" height="1"/><rect x="465" y="94" width="1" height="1"/><rect x="466" y="91" width="1" height="1"/><rect x="466" y="92" width="1" height="1"/><rect x="466" y="93" width="1" height="1"/></g>
</svg>
</body></html>
